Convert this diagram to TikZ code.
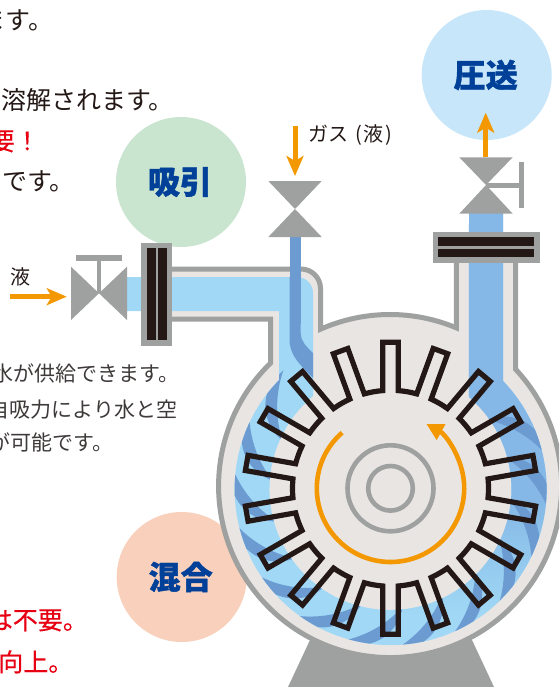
\documentclass[tikz,border=0pt]{standalone}
\usepackage{fontspec}
\setmainfont{Noto Sans CJK JP}
\usetikzlibrary{arrows.meta}
\definecolor{pumpgray}{HTML}{9FA0A0}
\definecolor{casebeige}{HTML}{E9E5E3}
\definecolor{liqblue}{HTML}{A0D8F5}
\definecolor{midblue}{HTML}{85B8E6}
\definecolor{gasblue}{HTML}{6C9BD2}
\definecolor{feedorange}{HTML}{F39800}
\definecolor{headblue}{HTML}{004098}
\definecolor{bladeblack}{HTML}{231815}
\definecolor{txtdark}{HTML}{3E3A39}
\definecolor{txtred}{HTML}{E60012}
\definecolor{suckgreen}{HTML}{C9E4CF}
\definecolor{pushblue}{HTML}{C7E6F9}
\definecolor{mixpeach}{HTML}{F8D0BB}
\newcommand{\liquidpath}{(503,213) -- (503,380.9) arc[start angle=-43.9,end angle=224.4,radius=156] -- (279,311) -- (127,311) -- (127,277) -- (297,277) arc[start angle=-90,end angle=0,radius=16] -- (313,396.1) arc[start angle=230.2,end angle=-49.6,radius=121] -- (469,213) -- cycle}
\begin{document}
\begin{tikzpicture}[
    x = 1pt, y = -1pt,
    stage/.style = {shape = circle, minimum size = 130pt, inner sep = 0, text = headblue, font = \fontsize{32}{32}\selectfont\bfseries\addfontfeature{FakeBold=1.2}},
    body/.style = {anchor = base east, inner sep = 0, text = bladeblack, font = \fontsize{25}{25}\selectfont},
    small/.style = {anchor = base east, inner sep = 0, text = txtdark, font = \fontsize{21}{21}\selectfont},
    warn/.style = {anchor = base east, inner sep = 0, text = txtred, font = \fontsize{25}{25}\selectfont\addfontfeature{FakeBold=0.3}},
    tag/.style = {inner sep = 0, text = bladeblack, font = \fontsize{20}{20}\selectfont},
    feed/.style = {draw = feedorange, line width = 5pt, -{Stealth[length = 20pt, width = 17pt, inset = 5pt]}},
    valve/.style = {fill = pumpgray},
    wall/.style = {draw = pumpgray, line width = 5pt, fill = casebeige, miter limit = 10},
    bar/.style = {fill = bladeblack},
    hub/.style = {draw = pumpgray, line width = 4.6pt},
    blade/.style = {draw = bladeblack, line width = 5.2pt, line join = miter},
    ]
    \useasboundingbox (0,0) rectangle (559,687);
    \clip (0,0) rectangle (559,687);

    \node[stage, fill = suckgreen] (suction) at (181,182) {\hspace{-2pt}吸引};
    \node[stage, fill = pushblue] (discharge) at (486.7,75) {\hspace{-2pt}圧送};
    \node[stage, fill = mixpeach] (mixing) at (181.7,577) {\hspace{-2pt}混合};

    \node[body] (line1) at (53.5,29.3) {ます。};
    \node[body] (line2) at (174,109.3) {溶解されます。};
    \node[warn] (line3) at (40,150.3) {要！};
    \node[body] (line4) at (75,190.3) {です。};
    \node[small] (line5) at (180,381) {水が供給できます。};
    \node[small] (line6) at (177.5,417) {自吸力により水と空};
    \node[small] (line7) at (114,450) {が可能です。};
    \node[warn] (line8) at (88,629.3) {は不要。};
    \node[warn] (line9) at (73.5,671.3) {向上。};
    \node[tag] (liqtag) at (20,277) {液};
    \node[tag, anchor = west] (gastag) at (308,135.5) {ガス\hspace{7pt}(\hspace{2pt}液\hspace{2pt})};

    % legs and casing
    \fill[pumpgray] (310,640) -- (288,687) -- (494,687) -- (472,640) -- cycle;
    \draw[wall] (160,269) -- (301,269) arc[start angle=-90,end angle=0,radius=19.5] -- (320.5,329.2)
        arc[start angle=-113.9,end angle=-67.2,radius=171.5] -- (456.5,250) -- (515.5,250) -- (515.5,369.1)
        arc[start angle=-43,end angle=225.8,radius=171.5] -- (270.5,319) -- (160,319) -- cycle;

    % liquid
    \begin{scope}
        \clip \liquidpath;
        \fill[liqblue] (100,200) rectangle (559,660);
        \fill[midblue] (391,200) rectangle (559,500);
        \shade[top color = midblue, bottom color = liqblue] (391,500) rectangle (559,615);
        \begin{scope}[shift = {(390.5,489)}, y = 1pt]
            \foreach \t in {136,156,...,376}
                \fill[gasblue] ({\t+2}:160) .. controls ({\t+10}:156) and ({\t+17}:143) .. ({\t+20}:118)
                    .. controls ({\t+13}:134) and ({\t+5}:149) .. ({\t-4}:160) -- cycle;
        \end{scope}
        \fill[gasblue] (289.5,270) -- (301,270) -- (300.7,333) .. controls (301,342) and (306,346) .. (313,353)
            -- (313,378) .. controls (304,368) and (290,358) .. (289.5,340) -- cycle;
    \end{scope}
    \fill[gasblue] (289.5,237) rectangle (301,290);

    % impeller
    \begin{scope}[shift = {(390.5,488.3)}, y = 1pt]
        \draw[blade] (94.5:98) \foreach \a in {90,70,...,-250} {
            -- ([rotate=\a-90]-7.7,146) -- ([rotate=\a-90]7.7,146) -- ({\a-4.5}:98)
            arc[start angle=\a-4.5,end angle=\a-15.5,radius=98] } -- cycle;
        \draw[hub] (0,0) circle (43);
        \draw[hub] (0,0) circle (22.3);
        \draw[draw = feedorange, line width = 4.6pt, -{Triangle[length = 17pt, width = 17pt]}]
            (131:73.7) arc[start angle=131,end angle=421,radius=73.7];
    \end{scope}

    % flanges
    \fill[pumpgray] (141,243) rectangle (172,345.5);
    \fill[bar] (146.7,248) rectangle (155.7,340);
    \fill[bar] (157.7,248) rectangle (166.7,340);
    \fill[pumpgray] (433,232) rectangle (540,263);
    \fill[bar] (438.3,237.3) rectangle (534.3,246);
    \fill[bar] (438.3,248.7) rectangle (534.3,257.3);

    % valves
    \fill[valve] (71,266.7) -- (99,293.3) -- (71,320) -- cycle;
    \fill[valve] (127,266.7) -- (99,293.3) -- (127,320) -- cycle;
    \fill[valve] (96.7,255) rectangle (101.3,293.3);
    \fill[valve] (76,255) rectangle (122,260.7);
    \fill[valve] (268.3,181) -- (321.7,181) -- (295,209) -- (321.7,237) -- (268.3,237) -- (295,209) -- cycle;
    \fill[valve] (459.3,157.3) -- (512.7,157.3) -- (486,185) -- (512.7,213.7) -- (459.3,213.7) -- (486,185) -- cycle;
    \fill[valve] (486,182.7) rectangle (520,188);
    \fill[valve] (519.3,162.3) rectangle (524,208.3);

    % feed arrows
    \coordinate (liqtail) at (10,296.7);
    \coordinate (liqhead) at (66.7,296.7);
    \coordinate (gastail) at (295,125.7);
    \coordinate (gashead) at (295,176);
    \coordinate (outtail) at (485.7,157.3);
    \coordinate (outhead) at (485.7,112.7);
    \draw[feed] (liqtail) -- (liqhead);
    \draw[feed] (gastail) -- (gashead);
    \draw[feed] (outtail) -- (outhead);
\end{tikzpicture}
\end{document}
